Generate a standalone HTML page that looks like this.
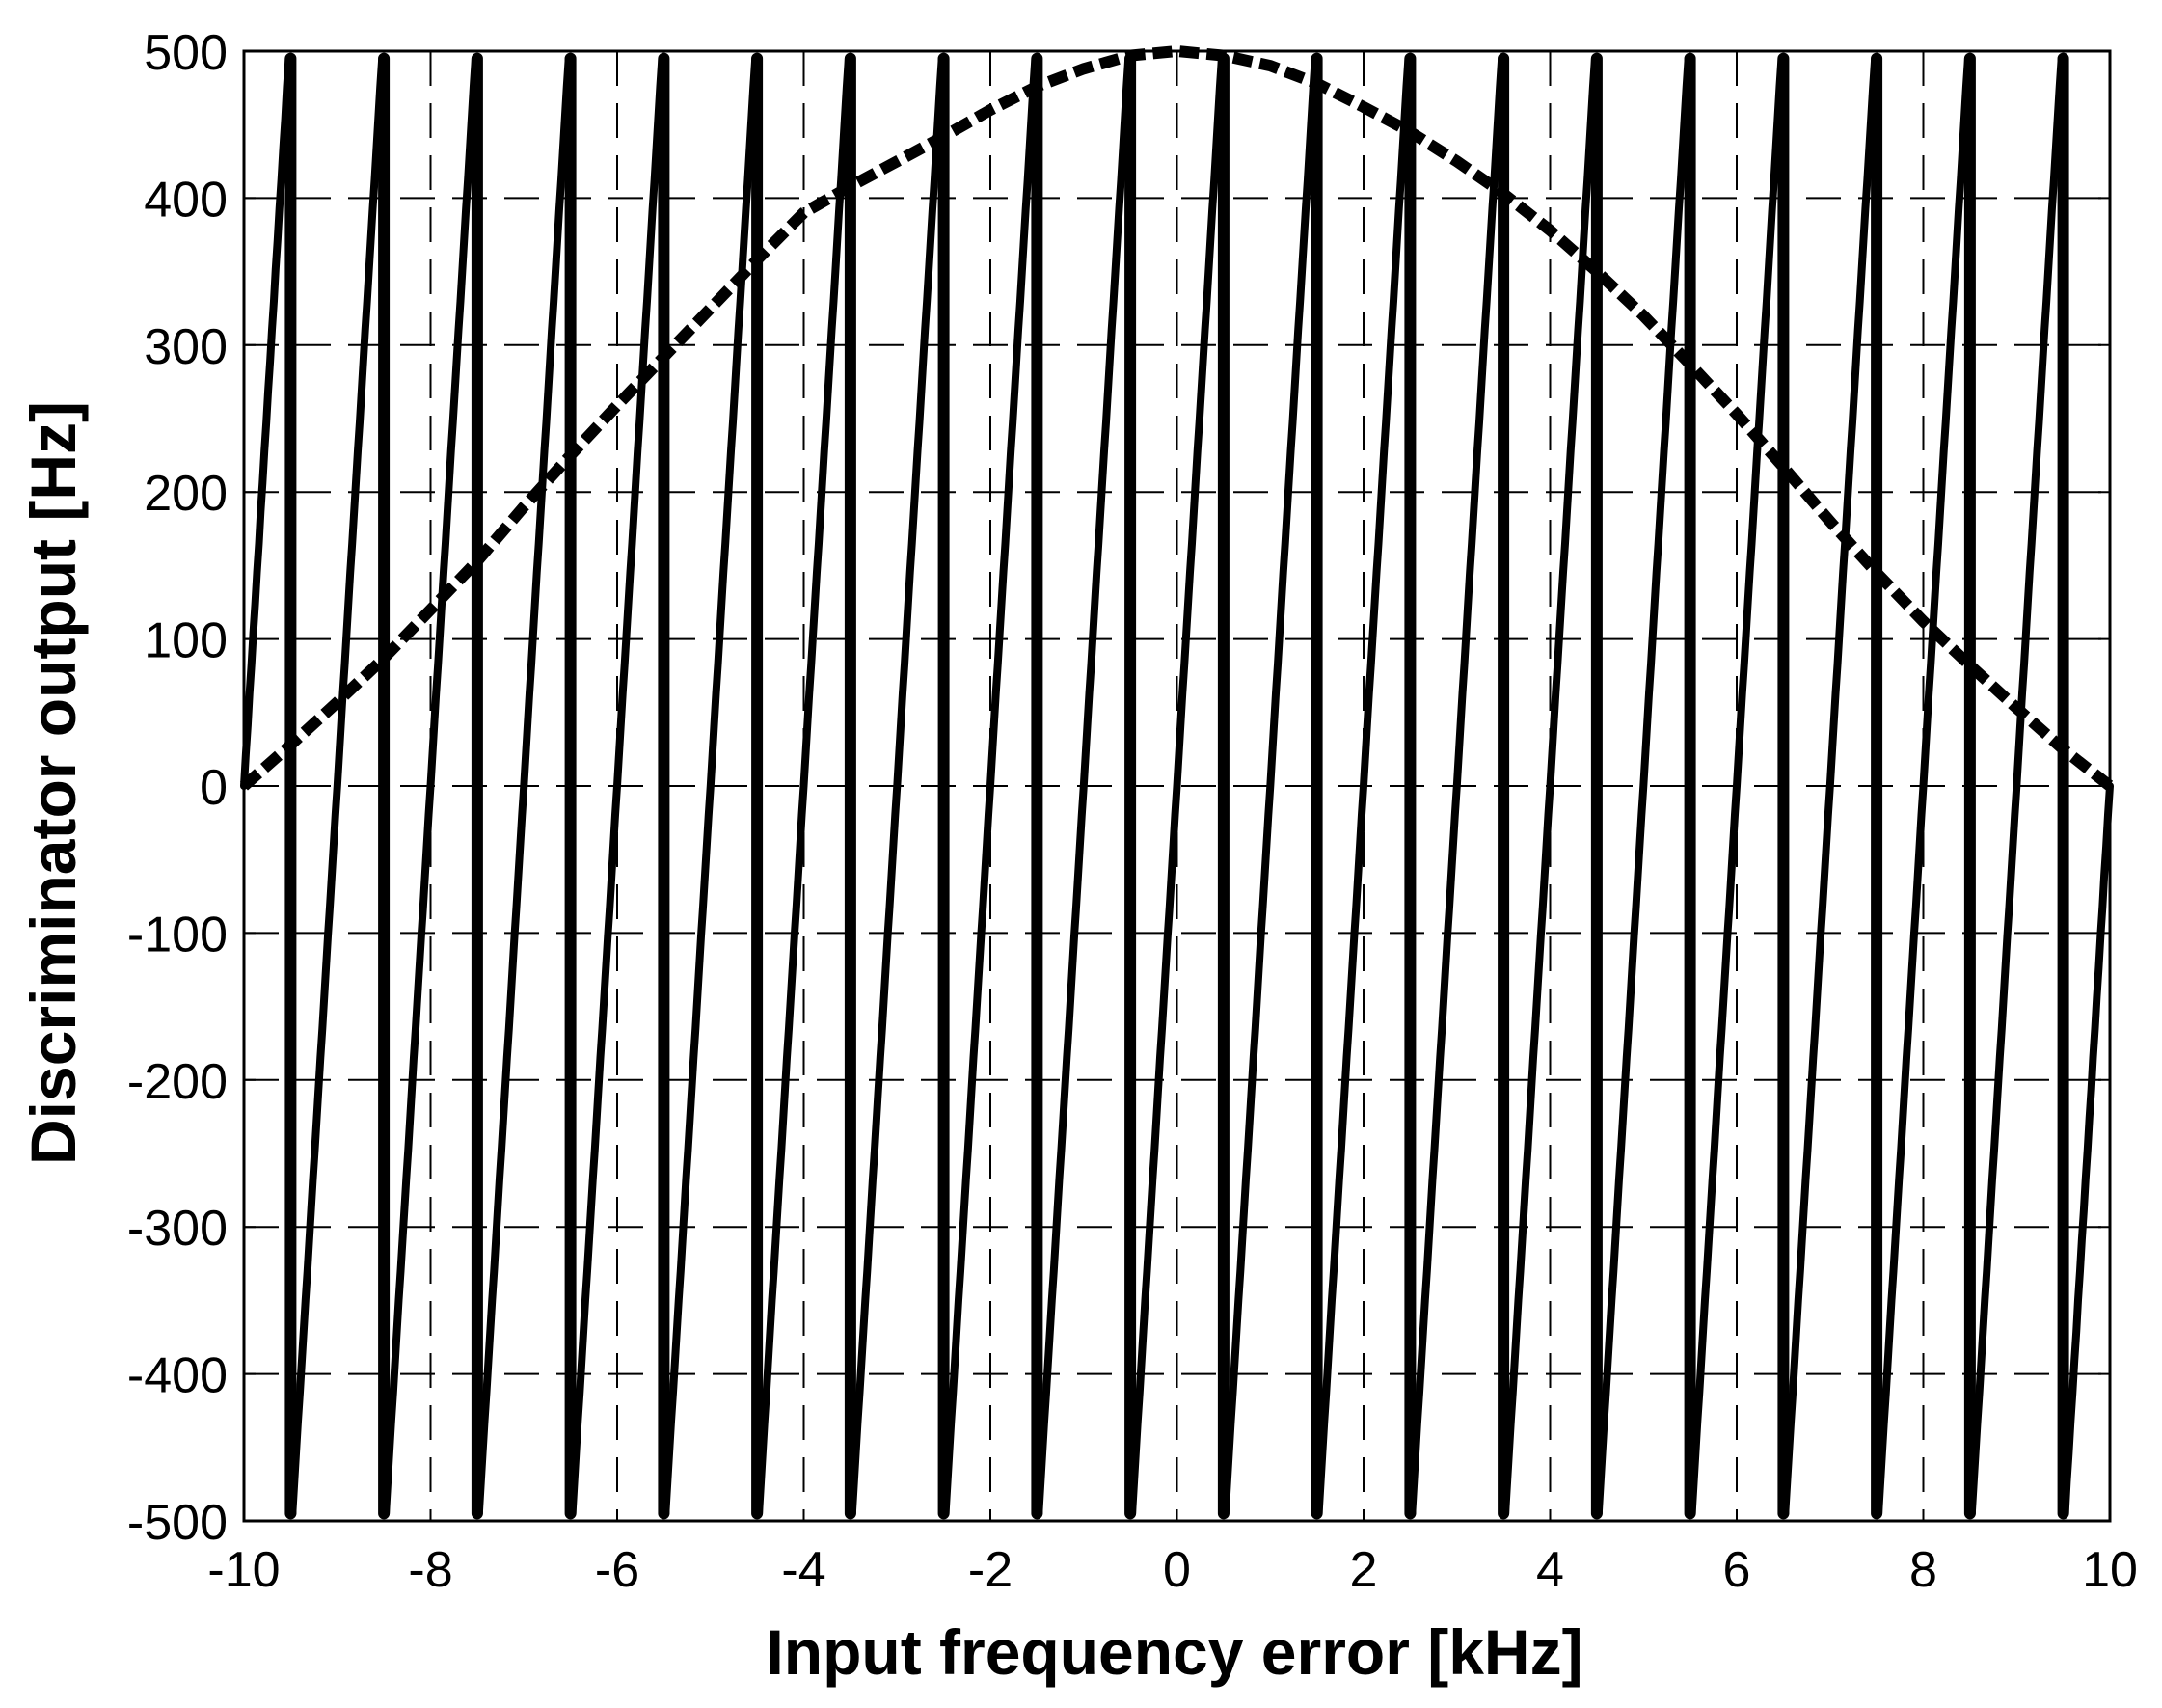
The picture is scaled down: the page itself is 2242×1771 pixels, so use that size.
<!DOCTYPE html>
<html><head><meta charset="utf-8"><style>
html,body{margin:0;padding:0;background:#fff;}
svg{display:block;font-family:"Liberation Sans",Arial,sans-serif;}
</style></head><body>
<svg id="chart" width="2242" height="1771" viewBox="0 0 2242 1771" xmlns="http://www.w3.org/2000/svg">
<rect x="0" y="0" width="2242" height="1771" fill="#fff"/>
<g id="grid"></g>
<g id="series"></g>
<g id="axes"></g>
<text x="1218" y="1736" font-size="66" font-weight="bold" text-anchor="middle">Input frequency error [kHz]</text>
<text x="0" y="0" transform="translate(78,812) rotate(-90)" font-size="66" font-weight="bold" text-anchor="middle">Discriminator output [Hz]</text>
</svg>
<script>
const xTicks = [-10,-8,-6,-4,-2,0,2,4,6,8,10];
const yTicks = [-500,-400,-300,-200,-100,0,100,200,300,400,500];
// sawtooth zero-crossing frequencies (kHz) and half-amplitude (Hz)
const sawCenters = [-10,-9,-8,-7,-6,-5,-4,-3,-2,-1,0,1,2,3,4,5,6,7,8,9,10];
const sawAmplitude = [495];
// envelope (dashed) samples
const envX = [-10,-9.5,-9,-8.5,-8,-7.5,-7,-6.5,-6,-5.5,-5,-4.5,-4,-3.5,-3,-2.5,-2,-1.5,-1,-0.5,0,0.5,1,1.5,2,2.5,3,3.5,4,4.5,5,5.5,6,6.5,7,7.5,8,8.5,9,9.5,10];
const envY = [0,28,57,87,120,153,190,225,259,292,325,358,390,408,425,442,460,476,488,497,500,497,490,478,462,445,425,403,378,350,320,287,253,217,180,145,112,82,53,25,0];

const L=253,R=2188,T=53,B=1577;
const xs=v=>L+(v+10)/20*(R-L);
const ys=v=>B-(v+500)/1000*(B-T);
const NS="http://www.w3.org/2000/svg";
function mk(tag,attrs,parent){const e=document.createElementNS(NS,tag);for(const k in attrs)e.setAttribute(k,attrs[k]);parent.appendChild(e);return e;}
const grid=document.getElementById('grid'),axes=document.getElementById('axes'),series=document.getElementById('series');
xTicks.forEach(t=>{
  const gl=mk('line',{x1:xs(t),x2:xs(t),y1:T,y2:B,stroke:'#000','stroke-width':2,'stroke-dasharray':'36 18'},grid);
  
  
  const tk=mk('path',{d:`M${xs(t)},${B}v-12M${xs(t)},${T}v12`,stroke:'#000','stroke-width':2},axes);
  
  
  const tl=mk('text',{x:xs(t),y:1645,'font-size':52,'text-anchor':'middle'},axes);
  tl.textContent=t;
  
  
});
yTicks.forEach(t=>{
  const gl=mk('line',{x1:L,x2:R,y1:ys(t),y2:ys(t),stroke:'#000','stroke-width':2,'stroke-dasharray':'36 18'},grid);
  
  
  const tk=mk('path',{d:`M${L},${ys(t)}h12M${R},${ys(t)}h-12`,stroke:'#000','stroke-width':2},axes);
  
  
  const tl=mk('text',{x:236,y:ys(t)+19,'font-size':52,'text-anchor':'end'},axes);
  tl.textContent=t;
  
  
});
const box=mk('rect',{x:L,y:T,width:R-L,height:B-T,fill:'none',stroke:'#000','stroke-width':3},axes);



// sawtooth rises (staircase) and drops
const A=sawAmplitude[0];
let d='', dd='';
sawCenters.forEach((c,i)=>{
  const x0=Math.max(-10,c-0.48), x1=Math.min(10,c+0.48);
  const steps=12;
  let prevY=null;
  for(let s=0;s<=steps;s++){
    const xv=x0+(x1-x0)*s/steps;
    const yv=Math.max(-A,Math.min(A,(xv-c)*2*A/0.96));
    const px=xs(xv), py=ys(yv);
    if(s===0){ d+='M'+px.toFixed(1)+','+py.toFixed(1); }
    else {
      const midY=Math.min(prevY, py+30);
      d+='L'+(px-2).toFixed(1)+','+midY.toFixed(1)+'L'+px.toFixed(1)+','+py.toFixed(1);
    }
    prevY=py;
  }
  if(c+0.5<10) dd+='M'+xs(c+0.5).toFixed(1)+','+ys(A)+'V'+ys(-A);
});
const saw=mk('path',{d:d,fill:'none',stroke:'#000','stroke-width':8,'stroke-linejoin':'round','stroke-linecap':'round'},series);


const drops=mk('path',{d:dd,fill:'none',stroke:'#000','stroke-width':12,'stroke-linecap':'round'},series);



const env=mk('path',{d:envX.map((x,i)=>(i?'L':'M')+xs(x).toFixed(1)+','+ys(envY[i]).toFixed(1)).join(''),fill:'none',stroke:'#000','stroke-width':12,'stroke-dasharray':'20 8'},series);


</script>
</body></html>
